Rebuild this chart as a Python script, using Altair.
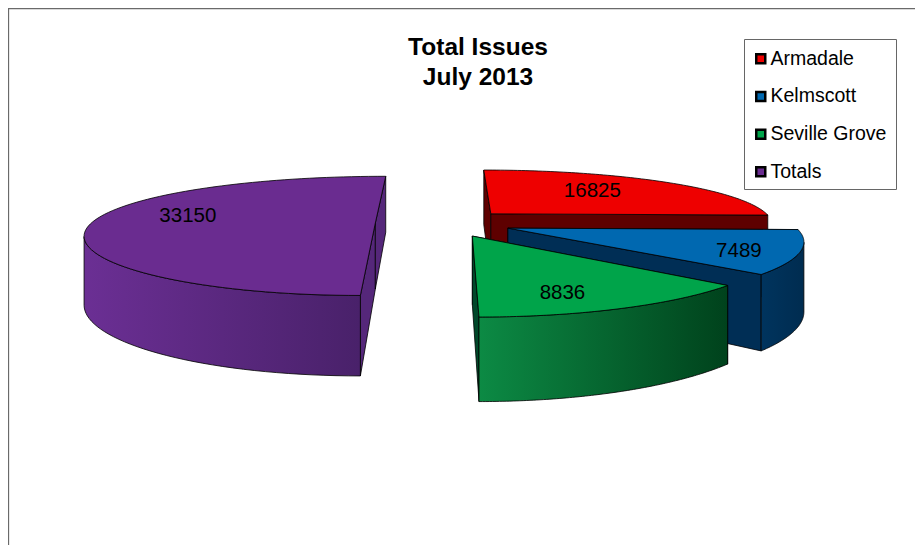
import numpy as np
import pandas as pd
import altair as alt

# --- chart values ---
names = ["Armadale", "Kelmscott", "Seville Grove", "Totals"]
values = [16825, 7489, 8836, 33150]
top_colors = ["#ee0000", "#0068b0", "#00a44a", "#6a2c90"]
radial_colors = ["#5e0000", "#002e55", "#00482a", "#55277a"]
wall_stops = [
    ["#8a0000", "#5e0000"],
    ["#00345e", "#002c50"],
    ["#0c8a44", "#00421c"],
    ["#6b2f94", "#49216a"],
]
paint_order = [3, 0, 1, 2]
label_radius = [0.63, 0.815, 0.794, 0.69]
label_turn = [-4.7, 4, 5.8, 10]

title_lines = ["Total Issues", "July 2013"]

# --- perspective model of the pie (screen pixels) ---
CX, CY = 443.5, 223.0
RX, RY = 284.0, 56.8
PERSP_X = 0.18
PERSP_Y = 0.216
DEPTH = 66.0
EXPLODE = 0.24

W, H = 907, 537
XDOM = [8, 8 + W]
YDOM = [8 + H, 8]


def project(wx, wy, drop=0.0):
    dx = 1 - PERSP_X * wy
    dy = 1 - PERSP_Y * wy
    return CX + RX * wx / dx, CY + RY * wy / dy + drop * DEPTH / dx


def ring(a0, a1, ex, ey, n=90):
    t = np.radians(np.linspace(a0, a1, n))
    return np.sin(t) + ex, -np.cos(t) + ey


xs = alt.X("x:Q", axis=None, scale=alt.Scale(domain=XDOM, nice=False, zero=False))
ys = alt.Y("y:Q", axis=None, scale=alt.Scale(domain=YDOM, nice=False, zero=False))


def poly(px, py, fill, width=0.8):
    px, py = list(px) + [px[0]], list(py) + [py[0]]
    df = pd.DataFrame({"x": px, "y": py, "i": range(len(px))})
    return (
        alt.Chart(df)
        .mark_line(fill=fill, stroke="#000000", strokeWidth=width, strokeJoin="round")
        .encode(x=xs, y=ys, order="i:Q")
    )


total = sum(values)
starts = np.cumsum([0] + values[:-1]) / total * 360
ends = np.cumsum(values) / total * 360

layers = []
label_rows = []
for k in paint_order:
    a0, a1 = starts[k], ends[k]
    mid = np.radians((a0 + a1) / 2)
    ex, ey = EXPLODE * np.sin(mid), -EXPLODE * np.cos(mid)
    wx, wy = ring(a0, a1, ex, ey)
    # radial walls
    for j in (0, -1):
        rx = [ex, wx[j], wx[j], ex]
        ry = [ey, wy[j], wy[j], ey]
        drops = [0, 0, 1, 1]
        pts = [project(a, b, c) for a, b, c in zip(rx, ry, drops)]
        layers.append(poly([p[0] for p in pts], [p[1] for p in pts], radial_colors[k]))
    # outer wall: only the part of the rim that faces the viewer
    tx, ty = project(wx, wy)
    bx, by = project(wx, wy, 1.0)
    front = np.gradient(tx) < 0
    if front.sum() > 2:
        grad = alt.Gradient(
            gradient="linear", x1=0, x2=1, y1=0, y2=0,
            stops=[
                alt.GradientStop(color=wall_stops[k][0], offset=0),
                alt.GradientStop(color=wall_stops[k][1], offset=1),
            ],
        )
        layers.append(poly(np.r_[tx[front], bx[front][::-1]], np.r_[ty[front], by[front][::-1]], grad))
    # top face
    ax, ay = project(ex, ey)
    layers.append(poly(np.r_[ax, tx], np.r_[ay, ty], top_colors[k]))
    # value label
    t = mid + np.radians(label_turn[k])
    lx, ly = project(ex + label_radius[k] * np.sin(t), ey - label_radius[k] * np.cos(t))
    label_rows.append({"x": lx, "y": ly, "text": str(values[k])})

labels = (
    alt.Chart(pd.DataFrame(label_rows))
    .mark_text(font="Liberation Sans", fontSize=20.5, color="#000000", baseline="middle", align="center")
    .encode(x=xs, y=ys, text="text:N")
)

title = (
    alt.Chart(pd.DataFrame({"x": [478, 478], "y": [48, 78], "text": title_lines}))
    .mark_text(font="Liberation Sans", fontSize=24.5, fontWeight="bold", color="#000000", baseline="middle", align="center")
    .encode(x=xs, y=ys, text="text:N")
)

frame_top = (
    alt.Chart(pd.DataFrame({"k": [0]}))
    .mark_rule(color="#6a6a6a", strokeWidth=1.3)
    .encode(x=alt.value(0), x2=alt.value(W), y=alt.value(0.5))
)
frame_left = (
    alt.Chart(pd.DataFrame({"k": [0]}))
    .mark_rule(color="#6a6a6a", strokeWidth=1.3)
    .encode(y=alt.value(0), y2=alt.value(H), x=alt.value(0.5))
)

legend_box = (
    alt.Chart(pd.DataFrame({"k": [0]}))
    .mark_rect(fill="#ffffff", stroke="#666666", strokeWidth=1)
    .encode(x=alt.value(736.5), x2=alt.value(888.5), y=alt.value(31.5), y2=alt.value(181.5))
)

legend_driver = (
    alt.Chart(pd.DataFrame({"name": names}))
    .mark_point(filled=True, size=0)
    .encode(
        x=alt.value(0),
        y=alt.value(0),
        fill=alt.Fill(
            "name:N",
            scale=alt.Scale(domain=names, range=top_colors),
            legend=alt.Legend(
                title=None,
                orient="none",
                legendX=743,
                legendY=41,
                padding=0,
                symbolType="square",
                symbolSize=81,
                symbolStrokeColor="#000000",
                symbolStrokeWidth=2.5,
                symbolOpacity=1,
                labelFont="Liberation Sans",
                labelFontSize=19.5,
                labelColor="#000000",
                labelLimit=200,
                labelOffset=0,
                rowPadding=16.7,
            ),
        ),
    )
)

chart = (
    alt.layer(frame_top, frame_left, *layers, labels, title, legend_box, legend_driver)
    .properties(width=W, height=H, padding=0, autosize="none", background="#ffffff")
    .configure_view(stroke=None)
)

chart.save("out.html", embed_options={"renderer": "svg", "actions": False})
